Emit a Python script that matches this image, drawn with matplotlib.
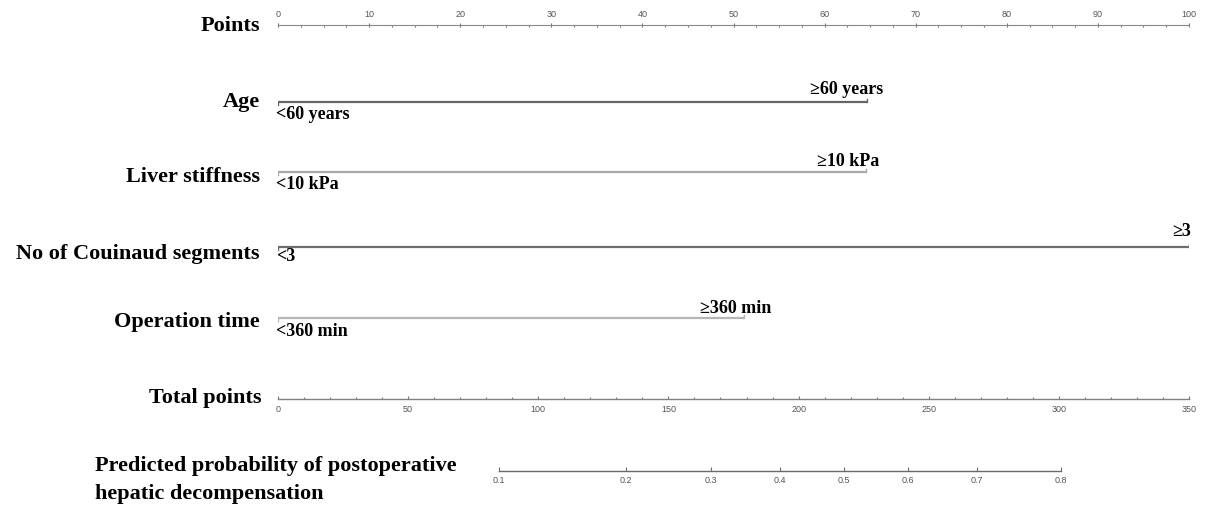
import matplotlib
matplotlib.use('Agg')
import matplotlib.pyplot as plt
from matplotlib.ticker import MultipleLocator, FixedLocator

# nomogram data
point_ticks = [0, 10, 20, 30, 40, 50, 60, 70, 80, 90, 100]
variables = ['Age', 'Liver stiffness', 'No of Couinaud segments', 'Operation time']
low_labels = ['<60 years', '<10 kPa', '<3', '<360 min']
high_labels = ['\u226560 years', '\u226510 kPa', '\u22653', '\u2265360 min']
high_points = [64.6, 64.5, 100, 51.2]
total_ticks = [0, 50, 100, 150, 200, 250, 300, 350]
prob_ticks = [0.1, 0.2, 0.3, 0.4, 0.5, 0.6, 0.7, 0.8]
prob_points = [84.9, 133.7, 166.2, 192.9, 217.5, 241.9, 268.6, 300.7]

W, H = 1208, 512
X0, X1 = 278, 1189
SERIF = 'Liberation Serif'
SANS = 'Liberation Sans'

fig = plt.figure(figsize=(W / 100, H / 100), dpi=100)

# main layer: x in points, y in pixel rows
ax = fig.add_axes([X0 / W, 0, (X1 - X0) / W, 1])
ax.set_xlim(0, 100)
ax.set_ylim(H, 0)
ax.axis('off')

label_kw = dict(fontsize=16, fontweight='bold', family=SERIF, ha='right', va='baseline')
level_kw = dict(fontsize=13, fontweight='bold', family=SERIF, va='baseline')

row_lines = [101.5, 172, 246.7, 318]
row_base = [106.5, 181.5, 259, 326.5]
low_base = [119, 189, 261, 336.5]
high_base = [94, 166.5, 236.5, 313]
high_dx = [-57, -49, -17, -44]
line_colors = ['#666666', '#a8a8a8', '#6e6e6e', '#b5b5b5']

for i, name in enumerate(variables):
    y = row_lines[i]
    ax.text(-2.0, row_base[i], name, **label_kw)
    ax.plot([0, high_points[i]], [y, y], color=line_colors[i], lw=1.6, solid_capstyle='butt')
    ax.plot([0, 0], [y, y + 3], color=line_colors[i], lw=1.0)
    ax.plot([high_points[i]] * 2, [y, y - 3], color=line_colors[i], lw=1.0)
    ax.annotate(low_labels[i], xy=(0, low_base[i]), xytext=(-2, 0),
                textcoords='offset pixels', ha='left', **level_kw)
    ax.annotate(high_labels[i], xy=(high_points[i], high_base[i]), xytext=(high_dx[i], 0),
                textcoords='offset pixels', ha='left', **level_kw)

ax.text(-2.0, 31, 'Points', **label_kw)
ax.text(-1.8, 403.3, 'Total points', **label_kw)
fig.text(95 / W, 1 - 470.7 / H, 'Predicted probability of postoperative',
         fontsize=16, fontweight='bold', family=SERIF, ha='left', va='baseline')
fig.text(95 / W, 1 - 499.3 / H, 'hepatic decompensation',
         fontsize=16, fontweight='bold', family=SERIF, ha='left', va='baseline')


def scale_axes(y_px):
    a = fig.add_axes([X0 / W, 1 - y_px / H, (X1 - X0) / W, 0.0001])
    a.set_facecolor('none')
    a.set_yticks([])
    for s in ['left', 'right', 'top', 'bottom']:
        a.spines[s].set_visible(False)
    return a


tick_font = dict(fontsize=6.5, family=SANS, color='#555555')

# Points scale
ap = scale_axes(25.5)
ap.set_xlim(0, 100)
ap.spines['top'].set_visible(True)
ap.spines['top'].set_color('#8a8a8a')
ap.xaxis.tick_top()
ap.xaxis.set_major_locator(FixedLocator(point_ticks))
ap.xaxis.set_minor_locator(MultipleLocator(2.5))
ap.set_xticklabels([str(t) for t in point_ticks], **tick_font)
ap.tick_params(axis='x', which='major', direction='inout', length=3, width=0.8,
               color='#777777', pad=3)
ap.tick_params(axis='x', which='minor', direction='in', length=1.5, width=0.8,
               color='#777777')

# Total points scale
at = scale_axes(399.3)
at.set_xlim(0, 350)
at.spines['bottom'].set_visible(True)
at.spines['bottom'].set_color('#808080')
at.spines['bottom'].set_linewidth(1.0)
at.xaxis.set_major_locator(FixedLocator(total_ticks))
at.xaxis.set_minor_locator(MultipleLocator(10))
at.set_xticklabels([str(t) for t in total_ticks], **tick_font)
at.tick_params(axis='x', which='major', direction='in', length=2, width=0.8,
               color='#777777', pad=4)
at.tick_params(axis='x', which='minor', direction='in', length=1.5, width=0.8,
               color='#777777')

# Predicted probability scale
ar = scale_axes(470.7)
ar.set_xlim(0, 350)
ar.spines['bottom'].set_visible(True)
ar.spines['bottom'].set_color('#6a6a6a')
ar.spines['bottom'].set_linewidth(1.0)
ar.spines['bottom'].set_bounds(prob_points[0], prob_points[-1])
ar.xaxis.set_major_locator(FixedLocator(prob_points))
ar.set_xticklabels([str(t) for t in prob_ticks], **tick_font)
ar.tick_params(axis='x', which='major', direction='in', length=3, width=0.8,
               color='#6a6a6a', pad=4)

fig.savefig('out.png', dpi=100)
